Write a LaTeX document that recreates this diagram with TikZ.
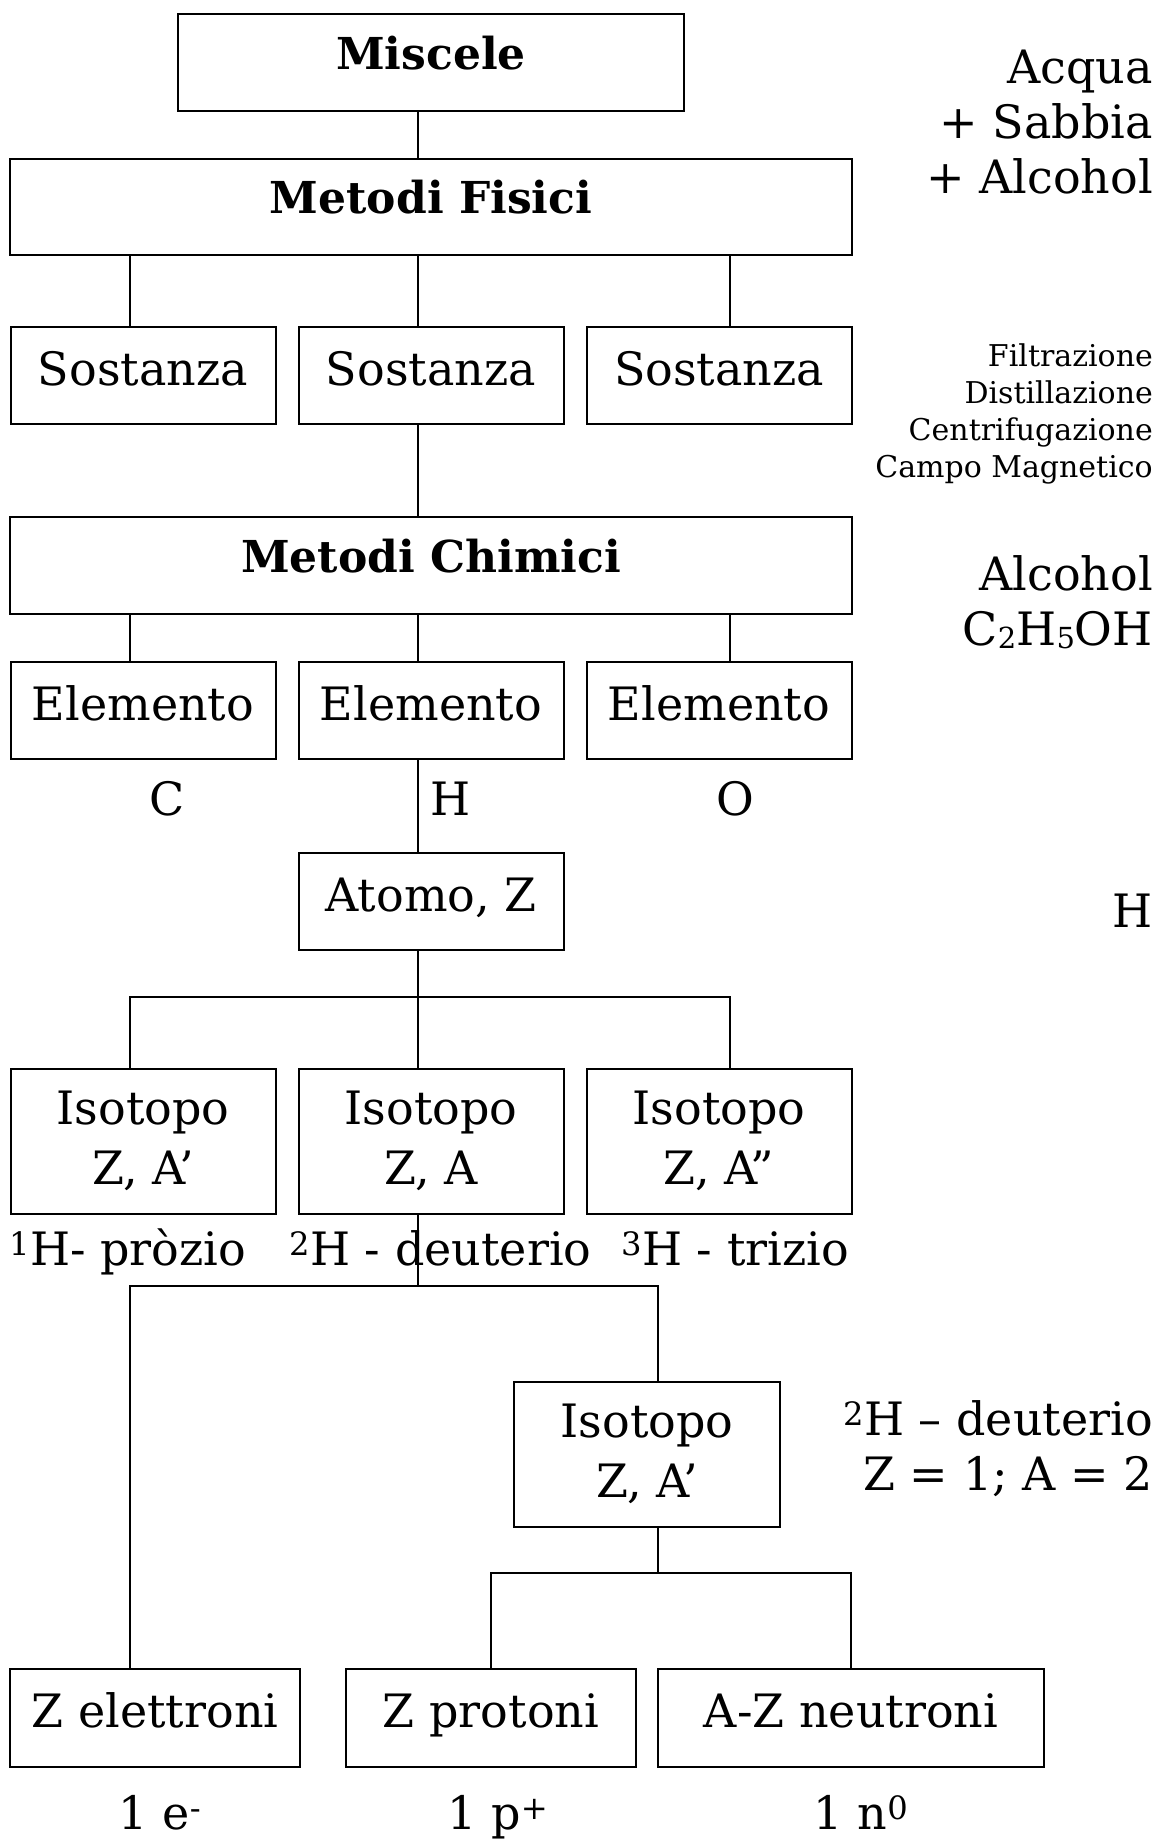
\documentclass[tikz,border=0pt]{standalone}
\usepackage{fontspec}
\setmainfont{DejaVu Serif}
\usetikzlibrary{positioning}
\newcommand{\bigtext}{\fontsize{46}{60}\selectfont}
\newcommand{\notetext}{\fontsize{46}{55}\selectfont}
\newcommand{\smalltext}{\fontsize{30}{37}\selectfont}
\newcommand{\boldtext}{\fontsize{44}{50}\selectfont\bfseries}
\newcommand{\lowfig}[1]{\raisebox{-3pt}{\fontsize{29}{29}\selectfont #1}}

\begin{document}
\begin{tikzpicture}[x=1pt, y=-1pt]
    \tikzset{
        mybox/.style = {rectangle, draw=black, line width=2pt, inner sep=0pt, outer sep=0pt, align=center, font=\bigtext},
        onebox/.style = {mybox, text height=35pt, text depth=15pt},
        headbox/.style = {mybox, font=\boldtext, text height=32pt, text depth=18pt},
        link/.style = {line width=1.2pt},
        tag/.style = {inner sep=0pt, anchor=base, font=\bigtext},
        note/.style = {inner sep=0pt, align=right, anchor=base east, font=\notetext},
        smallnote/.style = {note, font=\smalltext}
    }
    \useasboundingbox (0,0) rectangle (1156,1840);

    \node (misc) [headbox, minimum width=506pt, minimum height=97pt] at (431,62) {Miscele};
    \node (fis) [headbox, minimum width=842pt, minimum height=96pt, below=48pt of misc] {Metodi Fisici};
    \node (sost2) [onebox, minimum width=265pt, minimum height=97pt, below=72pt of fis] {Sostanza};
    \node (sost1) [onebox, minimum width=265pt, minimum height=97pt, left=23pt of sost2] {Sostanza};
    \node (sost3) [onebox, minimum width=265pt, minimum height=97pt, right=23pt of sost2] {Sostanza};
    \node (chim) [headbox, minimum width=842pt, minimum height=97pt, below=93pt of sost2] {Metodi Chimici};
    \node (elem2) [onebox, minimum width=265pt, minimum height=97pt, below=48pt of chim] {Elemento};
    \node (elem1) [onebox, minimum width=265pt, minimum height=97pt, left=23pt of elem2] {Elemento};
    \node (elem3) [onebox, minimum width=265pt, minimum height=97pt, right=23pt of elem2] {Elemento};
    \node (atomo) [onebox, minimum width=265pt, minimum height=97pt, below=94pt of elem2] {Atomo, Z};
    \node (iso2) [mybox, minimum width=265pt, minimum height=145pt, below=119pt of atomo] {Isotopo\\Z, A};
    \node (iso1) [mybox, minimum width=265pt, minimum height=145pt, left=23pt of iso2] {Isotopo\\Z, A’};
    \node (iso3) [mybox, minimum width=265pt, minimum height=145pt, right=23pt of iso2] {Isotopo\\Z, A”};
    \node (iso4) [mybox, minimum width=266pt, minimum height=145pt, below=168pt of iso2, xshift=216pt] {Isotopo\\Z, A’};
    \node (prot) [onebox, minimum width=290pt, minimum height=98pt, below=142pt of iso4, xshift=-156pt] {Z protoni};
    \node (elet) [onebox, minimum width=290pt, minimum height=98pt, left=46pt of prot] {Z elettroni};
    \node (neut) [onebox, minimum width=386pt, minimum height=98pt, right=22pt of prot] {A-Z neutroni};

    \node (lc) [tag] at (167,815) {C};
    \node (lh) [tag] at (451,815) {H};
    \node (lo) [tag] at (735,815) {O};
    \node (prozio) [tag, anchor=base west] at (9,1265) {\textsuperscript{1}H- pròzio};
    \node (deut) [tag, anchor=base west] at (289,1265) {\textsuperscript{2}H - deuterio};
    \node (trizio) [tag, anchor=base west] at (621,1265) {\textsuperscript{3}H - trizio};
    \node (qe) [tag] at (160,1829) {1 e\textsuperscript{-}};
    \node (qp) [tag] at (498,1829) {1 p\textsuperscript{+}};
    \node (qn) [tag] at (861,1829) {1 n\textsuperscript{0}};

    \node (mix) [note] at (1153,193) {Acqua\\+ Sabbia\\+ Alcohol};
    \node (sep) [smallnote] at (1153,477) {Filtrazione\\Distillazione\\Centrifugazione\\Campo Magnetico};
    \node (alc) [note] at (1153,645) {Alcohol\\C\lowfig{2}H\lowfig{5}OH};
    \node (hyd) [note] at (1153,927) {H};
    \node (deu) [note] at (1153,1490) {\textsuperscript{2}H – deuterio\\Z = 1; A = 2};

    \coordinate (xl) at (130,0);
    \coordinate (xm) at (418,0);
    \coordinate (xr) at (730,0);
    \coordinate (xa) at (658,0);
    \coordinate (jatom) at (418,997);
    \coordinate (jiso) at (418,1286);
    \coordinate (jnuc) at (658,1573);

    \draw [link] (misc.south -| xm) -- (fis.north -| xm);
    \draw [link] (fis.south -| xl) -- (sost1.north -| xl);
    \draw [link] (fis.south -| xm) -- (sost2.north -| xm);
    \draw [link] (fis.south -| xr) -- (sost3.north -| xr);
    \draw [link] (sost2.south -| xm) -- (chim.north -| xm);
    \draw [link] (chim.south -| xl) -- (elem1.north -| xl);
    \draw [link] (chim.south -| xm) -- (elem2.north -| xm);
    \draw [link] (chim.south -| xr) -- (elem3.north -| xr);
    \draw [link] (elem2.south -| xm) -- (atomo.north -| xm);
    \draw [link] (atomo.south -| xm) -- (iso2.north -| xm);
    \draw [link] (iso1.north -| xl) |- (jatom) -| (iso3.north -| xr);
    \draw [link] (iso2.south -| xm) -- (jiso);
    \draw [link] (elet.north -| xl) |- (jiso) -| (iso4.north -| xa);
    \draw [link] (iso4.south -| xa) -- (jnuc);
    \draw [link] (prot.north) |- (jnuc) -| (neut.north);
\end{tikzpicture}
\end{document}
